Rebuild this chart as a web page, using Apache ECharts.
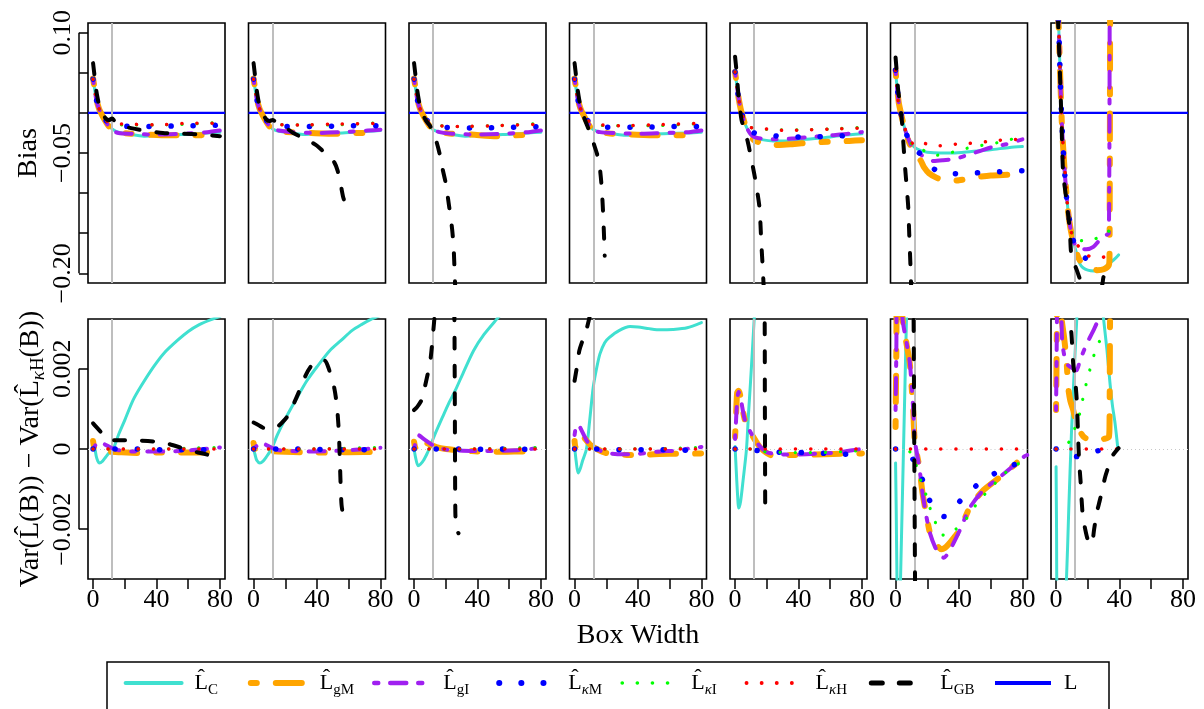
<!DOCTYPE html>
<html>
<head>
<meta charset="utf-8">
<script src="https://cdn.jsdelivr.net/npm/echarts@6/dist/echarts.min.js"></script>
<style>
  html, body { margin: 0; padding: 0; background: #ffffff; }
  #chart { width: 1204px; height: 709px; }
</style>
</head>
<body>
<div id="chart"></div>
<script>
// ---- axis ranges and ticks ----
const xMin = -3.2, xMax = 83.2;
const biasMin = -0.212, biasMax = 0.112;
const varMin = -0.00324, varMax = 0.00324;
const boxTicks = [0, 20, 40, 60, 80];
const boxLabels = [0, 40, 80];
const biasTicks = [-0.2, -0.15, -0.1, -0.05, 0, 0.05, 0.1];
const biasLabels = [-0.2, -0.05, 0.1];
const varTicks = [-0.002, 0, 0.002];
const refWidth = 12;   // reference box width (grey vertical line)
const trueL = 0;       // true value L drawn in the bias row

// ---- bias of each estimator, one list of [box width, bias] per panel ----
const biasC = [
  [[0,.042],[1,.029],[2,.017],[3,.009],[4,.004],[6,-.004],[8,-.011],[10,-.016],[12,-.020],[16,-.024],[24,-.027],[32,-.029],[40,-.028],[56,-.027],[72,-.025],[80,-.024]],
  [[0,.042],[1,.029],[2,.017],[3,.009],[4,.004],[6,-.004],[8,-.011],[10,-.016],[12,-.020],[16,-.023],[24,-.025],[32,-.027],[40,-.026],[56,-.025],[72,-.023],[80,-.022]],
  [[0,.042],[1,.029],[2,.017],[3,.009],[4,.004],[6,-.004],[8,-.011],[10,-.016],[12,-.021],[16,-.024],[24,-.027],[32,-.029],[40,-.028],[56,-.027],[72,-.025],[80,-.024]],
  [[0,.042],[1,.029],[2,.017],[3,.009],[4,.004],[6,-.004],[8,-.011],[10,-.017],[12,-.021],[16,-.024],[24,-.026],[32,-.028],[40,-.027],[56,-.026],[72,-.025],[80,-.024]],
  [[0,.051],[1,.036],[2,.021],[3,.010],[4,.001],[6,-.012],[8,-.021],[10,-.027],[12,-.031],[16,-.033],[24,-.035],[32,-.035],[44,-.033],[56,-.031],[68,-.028],[80,-.026]],
  [[0,.053],[1,.030],[2,.013],[3,.003],[4,-.006],[6,-.021],[8,-.031],[10,-.038],[12,-.043],[16,-.047],[20,-.049],[28,-.050],[36,-.050],[48,-.048],[60,-.046],[72,-.043],[80,-.042]],
  [[0,.17],[1,.13],[1.7,.105],[2.3,.065],[3,.022],[3.6,-.011],[4.4,-.041],[5.5,-.075],[6.1,-.090],[7.6,-.123],[9,-.143],[10.8,-.158],[12.5,-.172],[15,-.188],[17,-.193],[20,-.196],[24,-.197],[28,-.196],[31,-.192],[34,-.187],[37,-.182],[39.4,-.177]]
];
const biasGM = [
  [[0,.043],[1,.030],[2,.018],[3,.010],[4,.004],[6,-.004],[8,-.011],[10,-.017],[12,-.021],[16,-.024],[24,-.026],[32,-.027],[48,-.028],[64,-.028],[80,-.027]],
  [[0,.043],[1,.030],[2,.018],[3,.010],[4,.004],[6,-.004],[8,-.011],[10,-.017],[12,-.021],[16,-.023],[24,-.024],[36,-.025],[52,-.026],[64,-.025],[80,-.025]],
  [[0,.043],[1,.030],[2,.018],[3,.010],[4,.004],[6,-.004],[8,-.011],[10,-.017],[12,-.022],[16,-.024],[24,-.026],[36,-.027],[52,-.029],[64,-.028],[80,-.027]],
  [[0,.043],[1,.030],[2,.018],[3,.010],[4,.004],[6,-.004],[8,-.012],[10,-.018],[12,-.022],[16,-.024],[24,-.026],[36,-.027],[52,-.028],[64,-.028],[80,-.027]],
  [[0,.051],[1,.036],[2,.021],[3,.010],[4,.001],[6,-.012],[8,-.022],[10,-.029],[12,-.034],[16,-.037],[20,-.039],[28,-.040],[36,-.039],[48,-.037],[60,-.036],[72,-.035],[80,-.034]],
  [[0,.053],[1,.030],[2,.013],[3,.003],[4,-.006],[6,-.022],[8,-.034],[10,-.044],[12,-.051],[14,-.055],[16,-.060],[18,-.068],[21,-.075],[26,-.081],[32,-.085],[40,-.084],[48,-.081],[60,-.078],[72,-.077],[80,-.076]],
  [[0,.17],[1,.13],[1.7,.105],[2.3,.065],[3,.022],[3.6,-.011],[4.4,-.041],[5.5,-.075],[6.1,-.090],[7.6,-.123],[9,-.143],[10.8,-.160],[12.5,-.172],[15,-.184],[18,-.189],[22,-.193],[26,-.196],[30,-.195],[33.2,-.190],[33.7,-.180],[34.1,.15]]
];
const biasGI = [
  [[0,.042],[1,.029],[2,.017],[3,.009],[4,.004],[6,-.004],[8,-.011],[10,-.017],[12,-.022],[16,-.025],[24,-.026],[40,-.027],[56,-.026],[72,-.024],[80,-.022]],
  [[0,.042],[1,.029],[2,.017],[3,.009],[4,.004],[6,-.004],[8,-.011],[10,-.016],[12,-.020],[16,-.022],[24,-.024],[40,-.025],[56,-.024],[72,-.022],[80,-.021]],
  [[0,.042],[1,.029],[2,.017],[3,.009],[4,.004],[6,-.004],[8,-.011],[10,-.016],[12,-.021],[16,-.024],[24,-.026],[40,-.027],[56,-.026],[72,-.024],[80,-.022]],
  [[0,.042],[1,.029],[2,.017],[3,.009],[4,.004],[6,-.004],[8,-.011],[10,-.017],[12,-.022],[16,-.024],[24,-.025],[40,-.026],[56,-.025],[72,-.024],[80,-.022]],
  [[0,.051],[1,.036],[2,.021],[3,.010],[4,.001],[6,-.012],[8,-.021],[10,-.027],[12,-.030],[16,-.032],[24,-.033],[36,-.032],[48,-.030],[60,-.028],[72,-.026],[80,-.024]],
  [[0,.053],[1,.030],[2,.013],[3,.003],[4,-.006],[6,-.021],[8,-.032],[10,-.041],[12,-.046],[16,-.052],[20,-.057],[24,-.060],[30,-.059],[38,-.057],[46,-.052],[54,-.047],[62,-.042],[70,-.039],[80,-.033]],
  [[0,.17],[1,.13],[1.7,.105],[2.3,.065],[3,.022],[3.6,-.011],[4.4,-.041],[5.5,-.075],[6.1,-.090],[7.6,-.123],[9,-.143],[10.8,-.158],[12.5,-.166],[15,-.169],[19,-.170],[23.5,-.167],[27.7,-.158],[31.9,-.152],[33.3,-.150],[33.8,.15]]
];
const biasKM = [
  [[0,.042],[2,.017],[4,.004],[6,-.003],[8,-.009],[10,-.013],[12,-.015],[16,-.016],[24,-.017],[40,-.017],[56,-.016],[72,-.016],[80,-.015]],
  [[0,.042],[2,.017],[4,.004],[6,-.003],[8,-.009],[10,-.013],[12,-.015],[20,-.017],[40,-.017],[60,-.016],[80,-.016]],
  [[0,.042],[2,.017],[4,.004],[6,-.003],[8,-.009],[10,-.013],[12,-.016],[20,-.018],[40,-.019],[60,-.018],[80,-.017]],
  [[0,.042],[2,.017],[4,.004],[6,-.003],[8,-.009],[10,-.013],[12,-.016],[20,-.018],[40,-.018],[60,-.017],[80,-.017]],
  [[0,.051],[2,.021],[4,.001],[6,-.012],[8,-.020],[12,-.025],[20,-.027],[32,-.030],[48,-.030],[64,-.029],[80,-.027]],
  [[0,.053],[2,.013],[3,.002],[6,-.022],[9,-.036],[12,-.046],[15,-.050],[18,-.057],[21,-.065],[26,-.072],[33,-.076],[47,-.075],[62,-.074],[76,-.072],[80,-.072]],
  [[0,.17],[1,.13],[1.7,.105],[2.3,.065],[3,.020],[4.4,-.041],[6.1,-.094],[7.6,-.123],[10.8,-.158],[12.5,-.170],[16.7,-.179],[22,-.184],[26,-.187],[28,-.188]]
];
const biasKI = [
  [[0,.042],[2,.017],[4,.004],[6,-.003],[8,-.009],[12,-.014],[20,-.015],[40,-.015],[60,-.014],[80,-.012]],
  [[0,.042],[2,.017],[4,.004],[6,-.003],[8,-.009],[12,-.014],[30,-.015],[50,-.015],[80,-.012]],
  [[0,.042],[2,.017],[4,.004],[6,-.003],[8,-.009],[12,-.015],[30,-.017],[50,-.016],[80,-.013]],
  [[0,.042],[2,.017],[4,.004],[6,-.003],[8,-.009],[12,-.015],[30,-.016],[50,-.016],[80,-.013]],
  [[0,.051],[2,.021],[4,.001],[6,-.011],[8,-.017],[12,-.019],[24,-.021],[40,-.021],[60,-.020],[80,-.018]],
  [[0,.053],[2,.013],[3,.002],[6,-.021],[9,-.035],[12,-.044],[18,-.047],[25,-.053],[34,-.050],[43,-.045],[53,-.041],[62,-.038],[71,-.034],[80,-.029]],
  [[0,.17],[1,.13],[1.7,.105],[2.3,.065],[3,.020],[4.4,-.041],[6.1,-.090],[7.6,-.123],[10.8,-.155],[13,-.160],[17,-.159],[24,-.157],[30,-.154],[33,-.148],[35.1,-.139],[36,-.135]]
];
const biasKH = [
  [[0,.042],[2,.017],[4,.004],[6,-.003],[8,-.009],[12,-.014],[20,-.014],[40,-.015],[60,-.013],[80,-.013]],
  [[0,.042],[2,.017],[4,.004],[6,-.003],[8,-.009],[12,-.014],[30,-.015],[50,-.014],[80,-.013]],
  [[0,.042],[2,.017],[4,.004],[6,-.003],[8,-.009],[12,-.015],[30,-.017],[50,-.016],[80,-.014]],
  [[0,.042],[2,.017],[4,.004],[6,-.003],[8,-.009],[12,-.014],[30,-.016],[50,-.015],[80,-.013]],
  [[0,.051],[2,.021],[4,.001],[6,-.011],[8,-.017],[12,-.019],[20,-.020],[32,-.022],[48,-.021],[64,-.020],[80,-.019]],
  [[0,.053],[1.6,.016],[3,.001],[6,-.020],[8,-.030],[12,-.040],[15,-.036],[20,-.039],[28,-.041],[38,-.039],[47,-.038],[57,-.036],[66,-.034],[76,-.033],[80,-.032]],
  [[0,.17],[1,.13],[1.7,.105],[2.3,.065],[3,.020],[3.6,-.011],[4.4,-.041],[5.5,-.069],[6.1,-.087],[7.6,-.123],[10.8,-.158],[16,-.170],[19.3,-.177],[23,-.180],[27.7,-.181],[32,-.178],[36.2,-.173]]
];
const biasGB = [
  [[0,.062],[1,.045],[2,.028],[3,.017],[4,.009],[6,-.001],[8,-.007],[10,-.009],[12,-.007],[14,-.011],[18,-.016],[24,-.019],[32,-.022],[44,-.025],[56,-.026],[68,-.027],[80,-.029]],
  [[0,.062],[1,.045],[2,.028],[3,.016],[4,.008],[6,-.002],[8,-.008],[10,-.010],[12,-.009],[15,-.012],[20,-.018],[25,-.025],[30,-.030],[36,-.036],[40,-.041],[44,-.048],[48,-.055],[51,-.062],[53,-.072],[55,-.090],[56.5,-.105],[57.5,-.111]],
  [[0,.062],[1,.045],[2,.028],[3,.016],[4,.007],[6,-.004],[8,-.011],[10,-.016],[12,-.025],[14,-.035],[16,-.050],[18,-.070],[20,-.088],[22,-.115],[24,-.145],[25,-.170],[25.6,-.200],[26,-.22]],
  [[0,.062],[1,.045],[2,.028],[3,.016],[4,.007],[6,-.006],[8,-.016],[10,-.026],[12,-.038],[14,-.050],[15.5,-.062],[17,-.090],[18,-.125],[18.7,-.160],[19,-.178]],
  [[0,.070],[1,.050],[2,.025],[3,.008],[4,-.008],[6,-.022],[8,-.036],[10,-.055],[12,-.075],[14,-.098],[15.5,-.120],[16.5,-.160],[17.5,-.195],[18,-.215]],
  [[0,.069],[1,.045],[1.6,.029],[3,.008],[4,-.010],[5,-.040],[6,-.068],[7,-.092],[8,-.118],[8.6,-.150],[9.4,-.191],[9.8,-.215]],
  [[0,.19],[1.3,.112],[2.3,.058],[3.4,-.009],[4.4,-.073],[6.6,-.110],[8.7,-.147],[9.7,-.178],[12.9,-.195],[15,-.207],[18,-.225],[24,-.235],[29,-.215],[30,-.204],[34,-.189]]
];

// ---- Var(L(B)) - Var(L_kH(B)), one list of [box width, difference] per panel ----
const varC = [
  [[0,2e-4],[1,0.5e-4],[2,-1.8e-4],[3,-3e-4],[4,-3.5e-4],[6,-3e-4],[8,-2e-4],[10,-1e-4],[12.7,0],[16,3.5e-4],[20,7.2e-4],[25,12e-4],[30,15.5e-4],[38,20.4e-4],[45,24e-4],[53,27e-4],[60,29.3e-4],[67,31e-4],[74,32.2e-4],[80,33e-4]],
  [[0,0],[1,-1.5e-4],[2,-2.8e-4],[4,-3.5e-4],[6,-3e-4],[8,-2e-4],[11.3,0],[15,3.5e-4],[20,7.5e-4],[27,12.5e-4],[33.6,17e-4],[40,20.5e-4],[48,24.5e-4],[55,27e-4],[62,29.5e-4],[68,31e-4],[74,32.3e-4],[80,33.3e-4]],
  [[0,0],[1,-2.2e-4],[2.5,-4.2e-4],[4,-3.8e-4],[6,-2.8e-4],[8,-1.3e-4],[9.5,0],[13,3.5e-4],[18,8e-4],[22,11.5e-4],[26,14.6e-4],[31,19e-4],[37.5,24.5e-4],[44,28.5e-4],[52,32.3e-4],[58,35e-4]],
  [[0,0.6e-4],[1,-3e-4],[2.2,-6e-4],[3.5,-5e-4],[5,-3e-4],[7.5,0],[9.5,7e-4],[11.8,15.5e-4],[14,20.3e-4],[16,23.7e-4],[19,26.5e-4],[22,27.8e-4],[28,29.5e-4],[35,30.5e-4],[40,30.4e-4],[47,30e-4],[54,29.7e-4],[62,29.8e-4],[71,30.2e-4],[80,31.5e-4]],
  [[0,0.6e-4],[0.7,-5e-4],[1.5,-11e-4],[2.3,-14.7e-4],[3.5,-13e-4],[5,-8e-4],[7.2,0],[8.5,9e-4],[9.7,16.4e-4],[11,25e-4],[12,32e-4],[13,38e-4]],
  [[0,-3.5e-4],[0.4,-15e-4],[0.9,-33e-4],[1.5,-45e-4],[2.5,-45e-4],[3.1,-33e-4],[5,0],[6.9,33e-4],[7.5,45e-4]],
  [[0,-4.4e-4],[0.3,-20e-4],[0.7,-40e-4],[4,-50e-4],[6.6,-32e-4],[8,-15e-4],[9.7,4e-4],[11.5,20e-4],[13,32e-4],[14,40e-4],[20,60e-4],[27,45e-4],[29.8,33e-4],[32,25e-4],[34,16.4e-4],[35.5,11e-4],[37.2,6.4e-4],[39,0]]
];
const varGM = [
  [[0,2e-4],[1,0],[3,-0.3e-4],[8,-0.6e-4],[16,-0.8e-4],[28,-1e-4],[40,-0.9e-4],[60,-0.9e-4],[80,-0.8e-4]],
  [[0,1.5e-4],[1,0],[4,-0.3e-4],[10,-0.5e-4],[20,-0.7e-4],[30,-0.8e-4],[45,-0.9e-4],[60,-0.8e-4],[80,-0.7e-4]],
  [[0,1.8e-4],[0.8,0.3e-4],[2,1.5e-4],[4,2.5e-4],[8,1.5e-4],[14,0.5e-4],[20,0],[28,-0.3e-4],[40,-0.6e-4],[56,-0.7e-4],[70,-0.6e-4],[80,-0.6e-4]],
  [[0,2e-4],[0.5,0.5e-4],[1.5,1.5e-4],[4,3.5e-4],[6,2.8e-4],[10,1e-4],[14,0],[20,-1e-4],[28,-1.4e-4],[38,-1.5e-4],[50,-1.3e-4],[60,-1.2e-4],[68,-1.2e-4],[80,-1.1e-4]],
  [[0,3e-4],[0.6,8e-4],[1.3,14e-4],[2.2,14.5e-4],[3.2,13.5e-4],[4.5,10.5e-4],[6,7.5e-4],[8,5.5e-4],[10,4e-4],[13,2e-4],[16,0.3e-4],[20,-1e-4],[24,-1.7e-4],[30,-1.5e-4],[40,-1.5e-4],[56,-1.3e-4],[68,-1.2e-4],[80,-1.1e-4]],
  [[0,5.5e-4],[0.5,25e-4],[1,45e-4],[3,45e-4],[4.4,32.4e-4],[6.9,26.2e-4],[9,21.2e-4],[11.1,9.7e-4],[12.2,1.4e-4],[14.9,-4.3e-4],[17,-11e-4],[19.5,-16.5e-4],[21.7,-20.9e-4],[25,-23.5e-4],[29,-25e-4],[31.2,-24.6e-4],[33.3,-23.8e-4],[37,-22e-4],[40.8,-20e-4],[47.1,-14.3e-4],[55.6,-10.2e-4],[66.2,-6.9e-4],[74,-4.3e-4],[81,-1.9e-4],[83,-1.5e-4]],
  [[0,9.7e-4],[0.5,30e-4],[1,50e-4],[3,45e-4],[3.4,33e-4],[5,28e-4],[6.6,22e-4],[7.6,15.5e-4],[9,12e-4],[10.8,9.7e-4],[13,6e-4],[14.6,4.7e-4],[17.5,3e-4],[20,2.5e-4],[25.6,2.2e-4],[30,2.5e-4],[33.3,3e-4],[33.7,6e-4],[34,30e-4],[34.2,40e-4]]
];
const varGI = [
  [[0,0],[2,1.2e-4],[4,1.9e-4],[8,1e-4],[12,0.2e-4],[16,-0.3e-4],[24,-0.6e-4],[40,-0.6e-4],[56,-0.5e-4],[70,0],[80,0.4e-4]],
  [[0,0],[2,0.8e-4],[4.5,1.8e-4],[8,1e-4],[12,0.2e-4],[16,-0.3e-4],[24,-0.5e-4],[36,-0.6e-4],[50,-0.5e-4],[64,-0.2e-4],[80,0.3e-4]],
  [[0,0],[1.5,2.5e-4],[2.5,3.5e-4],[6,2.5e-4],[10,1.4e-4],[14,0.5e-4],[18,0],[24,-0.3e-4],[36,-0.5e-4],[50,-0.5e-4],[64,-0.3e-4],[76,0.1e-4],[80,0.2e-4]],
  [[0,3.5e-4],[1,5.8e-4],[2,6.2e-4],[4,5e-4],[7.5,2.2e-4],[10,1e-4],[14,0],[18,-0.7e-4],[22,-1.1e-4],[30,-1.3e-4],[40,-1.2e-4],[54,-0.6e-4],[64,-0.4e-4],[75,0.3e-4],[80,0.5e-4]],
  [[0,2.5e-4],[0.6,7e-4],[1.3,12e-4],[2.2,14.2e-4],[3.2,13.5e-4],[4.5,10.5e-4],[6,7.5e-4],[8,5.5e-4],[10,4e-4],[13,2e-4],[16,0.5e-4],[20,-0.8e-4],[25,-1.2e-4],[33,-1.4e-4],[45,-1.3e-4],[56,-1.1e-4],[66,-0.8e-4],[74,-0.3e-4],[80,0]],
  [[0,9.7e-4],[0.5,25e-4],[1,45e-4],[3,45e-4],[4.4,32.4e-4],[6.9,26.5e-4],[9,21.5e-4],[11.1,10e-4],[12.2,2e-4],[14.9,-4.3e-4],[17,-11e-4],[19.5,-17e-4],[21.7,-21e-4],[25,-24.5e-4],[28,-26.5e-4],[30.5,-27.1e-4],[33,-26e-4],[36.5,-23.5e-4],[40.8,-20e-4],[47,-14.5e-4],[55.6,-10.2e-4],[66,-6.9e-4],[74,-4.3e-4],[81,-1.9e-4],[83,-1.5e-4]],
  [[0,9.7e-4],[0.5,30e-4],[1,50e-4],[3,45e-4],[3.4,33e-4],[4,26.2e-4],[6.6,21.3e-4],[10.8,20e-4],[12.9,19.6e-4],[15,22e-4],[19.3,26.2e-4],[23.5,29.5e-4],[26.7,32.5e-4],[30,40e-4],[40,45e-4]]
];
const varKM = [
  [[0,0],[12,0],[28,0],[44,-0.2e-4],[58,-0.2e-4],[72,-0.2e-4],[80,-0.2e-4]],
  [[0,0],[14,0],[28,0],[42,-0.1e-4],[56,-0.2e-4],[70,-0.2e-4],[80,-0.2e-4]],
  [[0,0],[30,0],[45,-0.1e-4],[60,0],[72,-0.1e-4],[80,-0.1e-4]],
  [[0,0],[14,0],[29,-0.2e-4],[43,-0.2e-4],[57,-0.2e-4],[72,-0.3e-4],[80,-0.2e-4]],
  [[0,0],[8,0],[14,-0.4e-4],[28,-0.8e-4],[42,-0.9e-4],[57,-1.1e-4],[71,-1.3e-4],[80,-1.2e-4]],
  [[0,0],[5,0],[8,-1e-4],[11,-2.6e-4],[14,-5e-4],[17,-7.7e-4],[21.7,-13e-4],[26,-15.5e-4],[30.6,-16.8e-4],[35,-15.5e-4],[40.8,-12.9e-4],[51,-9.1e-4],[63,-6e-4],[76,-3.7e-4],[82,-2.5e-4]],
  [[0,0],[6,-0.5e-4],[13,-1.9e-4],[20,-1.2e-4],[26.7,-0.4e-4],[28,0]]
];
const varKI = [
  [[0,0],[20,0],[40,0],[60,0.2e-4],[80,0.4e-4]],
  [[0,0],[30,0],[50,0.1e-4],[70,0.3e-4],[80,0.4e-4]],
  [[0,0],[30,0],[60,0.2e-4],[80,0.4e-4]],
  [[0,0],[30,0],[57,0.1e-4],[70,0.3e-4],[80,0.4e-4]],
  [[0,0],[10,0],[18,-0.6e-4],[28,-0.8e-4],[38,-0.9e-4],[50,-0.9e-4],[60,-0.8e-4],[70,-0.6e-4],[80,-0.4e-4]],
  [[0,0],[6,0],[9,-0.7e-4],[13,-4e-4],[16,-8e-4],[19,-11.2e-4],[21.7,-14.7e-4],[25,-18.2e-4],[29.5,-21.4e-4],[33,-21.5e-4],[38,-20e-4],[44.6,-17.4e-4],[50,-14.3e-4],[56,-11.4e-4],[62.6,-8.6e-4],[69,-6e-4],[77,-3.8e-4],[82,-2.5e-4]],
  [[0,0],[4,0.3e-4],[7.6,1.4e-4],[11.4,4.7e-4],[14.6,8.4e-4],[16.7,12.2e-4],[18.6,15.6e-4],[21,19.3e-4],[23.5,22.9e-4],[26.7,26.4e-4],[30,28e-4],[33.7,28.7e-4]]
];
const varKH = [
  [[0,0],[80,0]], [[0,0],[80,0]], [[0,0],[80,0]], [[0,0],[80,0]],
  [[0,0],[80,0]], [[0,0],[80,0]], [[0,0],[40,0]]
];
const varGB = [
  [[0,6.4e-4],[2,5.5e-4],[5,4.2e-4],[8,3e-4],[11,2.2e-4],[20,2.2e-4],[30,2.1e-4],[40,1.8e-4],[48,1.2e-4],[54,0.5e-4],[60,-0.3e-4],[70,-1.2e-4],[80,-2.2e-4]],
  [[0,6.6e-4],[3,6e-4],[6,5.3e-4],[10,4.9e-4],[14.5,5.4e-4],[18,6.6e-4],[21,7.9e-4],[25,11e-4],[29,14.6e-4],[33,18.5e-4],[37,21e-4],[41,22e-4],[45,22e-4],[47,20.5e-4],[49,18e-4],[51,15e-4],[52.5,11e-4],[53.5,6e-4],[54,2e-4],[54.5,-4e-4],[55,-10e-4],[55.5,-14e-4],[56.5,-16.5e-4],[57,-17e-4]],
  [[0,9.7e-4],[2,10.5e-4],[4.7,12.2e-4],[6.8,15.5e-4],[8.5,18.5e-4],[10,21.3e-4],[11,24.6e-4],[12.7,32e-4],[13.5,36e-4],[20,60e-4],[25,40e-4],[25.6,20e-4],[26,-15e-4],[26.6,-20e-4],[28,-21e-4]],
  [[0,17e-4],[1.5,20.5e-4],[3,24.5e-4],[5,27e-4],[6.5,28.2e-4],[8,30.5e-4],[9.5,33e-4],[11,36e-4]],
  [[10,80e-4],[16,60e-4],[18.5,40e-4],[18.8,10e-4],[19,-15e-4]],
  [[10,60e-4],[11.2,40e-4],[11.8,0],[12.4,-40e-4],[13,-60e-4]],
  [[4,50e-4],[8.7,32e-4],[9.7,28.7e-4],[10.8,21.3e-4],[12,17.5e-4],[12.9,13e-4],[13.4,8.9e-4],[13.9,3e-4],[14.6,-3.5e-4],[15.4,-7.7e-4],[16,-12e-4],[17,-17.4e-4],[18,-19.3e-4],[20,-22.6e-4],[22.4,-23.8e-4],[24,-20e-4],[25.6,-16e-4],[27.7,-12.6e-4],[31,-6.9e-4],[33,-4.4e-4],[35,-2e-4],[39.4,0.2e-4]]
];

// ---- look of each estimator (legendWidth: stroke used for the legend sample) ----
const estimators = [
  { name: 'LC',  bias: biasC,  vari: varC,  color: '#40E0D0', width: 3,   legendWidth: 4,   dash: 'solid' },
  { name: 'LgM', bias: biasGM, vari: varGM, color: '#FFA500', width: 6,   legendWidth: 6,   dash: [6, 19, 26, 19] },
  { name: 'LgI', bias: biasGI, vari: varGI, color: '#A020F0', width: 4,   legendWidth: 4.5, dash: [4, 12, 16, 12] },
  { name: 'LkM', bias: biasKM, vari: varKM, color: '#0000FF', width: 5.5, legendWidth: 6,   dash: [0.1, 22] },
  { name: 'LkI', bias: biasKI, vari: varKI, color: '#00FF00', width: 3.2, legendWidth: 3.6, dash: [0.1, 15] },
  { name: 'LkH', bias: biasKH, vari: varKH, color: '#FF0000', width: 3.5, legendWidth: 3.8, dash: [0.1, 15] },
  { name: 'LGB', bias: biasGB, vari: varGB, color: '#000000', width: 4,   legendWidth: 5,   dash: [11, 17] }
];
const trueStyle = { name: 'L', color: '#0000FF', width: 2.2, legendWidth: 4 };

const FONT = '"Liberation Serif", "Times New Roman", serif';
const gridLeft = [88, 248.5, 409, 569.5, 730, 890.5, 1051];
const gridTop = [23, 319];
const gridW = 137, gridH = 260;
const tickLen = 9;

const minus = (s) => s.replace('-', '\u2212');
const fmtBias = (v) => (Math.abs(v) < 1e-12 ? '0' : minus(v.toFixed(2)));
const fmtVar = (v) => (Math.abs(v) < 1e-12 ? '0' : minus(v.toFixed(3)));

const grid = [], xAxis = [], yAxis = [], series = [];
for (let row = 0; row < 2; row++) {
  for (let p = 0; p < 7; p++) {
    const g = row * 7 + p;
    grid.push({
      left: gridLeft[p], top: gridTop[row], width: gridW, height: gridH,
      show: true, borderColor: '#000', borderWidth: 1.6, backgroundColor: 'transparent'
    });
    xAxis.push({
      type: 'value', gridIndex: g, min: xMin, max: xMax, position: 'bottom',
      axisLine: { show: false, onZero: false }, splitLine: { show: false },
      axisTick: { show: row === 1, customValues: boxTicks, length: 10, lineStyle: { color: '#000', width: 1.5 } },
      axisLabel: { show: row === 1, customValues: boxLabels, margin: 8, color: '#000', fontFamily: FONT, fontSize: 26 }
    });
    yAxis.push({
      type: 'value', gridIndex: g, position: 'left',
      min: row ? varMin : biasMin, max: row ? varMax : biasMax,
      axisLine: { show: false, onZero: false }, splitLine: { show: false },
      axisTick: { show: p === 0, inside: false, length: tickLen, customValues: row ? varTicks : biasTicks, lineStyle: { color: '#000', width: 1.5 } },
      axisLabel: {
        show: p === 0, customValues: row ? varTicks : biasLabels, rotate: 90, margin: 12,
        color: '#000', fontFamily: FONT, fontSize: 26, formatter: row ? fmtVar : fmtBias
      }
    });
    // grey reference line at the chosen box width, dotted zero line in the variance row
    const marks = [{ xAxis: refWidth, lineStyle: { color: '#BEBEBE', width: 2, type: 'solid' } }];
    if (row === 1) marks.push({ yAxis: 0, lineStyle: { color: '#C8C8C8', width: 1, type: [1, 3] } });
    series.push({
      type: 'line', xAxisIndex: g, yAxisIndex: g, data: [], silent: true, z: 1,
      markLine: { silent: true, symbol: 'none', animation: false, label: { show: false }, data: marks }
    });
    if (row === 0) {
      series.push({
        type: 'line', name: trueStyle.name, xAxisIndex: g, yAxisIndex: g,
        data: [[xMin, trueL], [xMax, trueL]], symbol: 'none', silent: true, z: 2,
        lineStyle: { color: trueStyle.color, width: trueStyle.width, type: 'solid' },
        itemStyle: { color: trueStyle.color }
      });
    }
    estimators.forEach((e, i) => {
      series.push({
        type: 'line', name: e.name, xAxisIndex: g, yAxisIndex: g,
        data: (row ? e.vari : e.bias)[p], symbol: 'none', showSymbol: false,
        smooth: 0.25, clip: true, silent: true, z: 3 + i,
        lineStyle: { color: e.color, width: e.width, type: e.dash, cap: 'round', join: 'round' },
        itemStyle: { color: e.color }
      });
    });
  }
}

// ---- legend: one component per entry, evenly spaced ----
const legendEntries = estimators.concat([trueStyle]);
const legendText = {
  LC:  '{g|}{b|L\u0302}{s|C}',
  LgM: '{g|}{b|L\u0302}{s|gM}',
  LgI: '{g|}{b|L\u0302}{s|gI}',
  LkM: '{g|}{b|L\u0302}{k|\u03BA}{s|M}',
  LkI: '{g|}{b|L\u0302}{k|\u03BA}{s|I}',
  LkH: '{g|}{b|L\u0302}{k|\u03BA}{s|H}',
  LGB: '{g|}{b|L\u0302}{s|GB}',
  L:   '{g|}{b|L}'
};
const textRich = {
  g: { width: 8 },
  b: { fontFamily: FONT, fontSize: 22, lineHeight: 30, color: '#000' },
  s: { fontFamily: FONT, fontSize: 15, lineHeight: 20, verticalAlign: 'bottom', color: '#000' },
  k: { fontFamily: FONT, fontSize: 15, lineHeight: 20, verticalAlign: 'bottom', fontStyle: 'italic', color: '#000' }
};
const legend = legendEntries.map((e, i) => ({
  data: [e.name], left: 123.6 + i * 124.2, top: 672, padding: 0,
  itemWidth: 56, itemHeight: 14, itemGap: 0, selectedMode: false,
  formatter: () => legendText[e.name],
  lineStyle: { width: e.legendWidth },
  itemStyle: { opacity: 0, borderWidth: 0 },
  textStyle: { fontFamily: FONT, fontSize: 22, color: '#000', rich: textRich }
}));

const chart = echarts.init(document.getElementById('chart'), null, { renderer: 'canvas' });
chart.setOption({
  animation: false,
  backgroundColor: '#ffffff',
  grid, xAxis, yAxis, series, legend
});

// ---- y-axis lines (first tick to last tick), titles and legend frame ----
const graphic = [];
[0, 1].forEach((row) => {
  const g = row * 7;
  const ticks = row ? varTicks : biasTicks;
  const yA = chart.convertToPixel({ yAxisIndex: g }, ticks[0]);
  const yB = chart.convertToPixel({ yAxisIndex: g }, ticks[ticks.length - 1]);
  const x = chart.convertToPixel({ xAxisIndex: g }, xMin) - tickLen;
  graphic.push({ type: 'line', shape: { x1: x, y1: yA, x2: x, y2: yB }, style: { stroke: '#000', lineWidth: 1.5 } });
});
const titleRich = {
  b: { fontFamily: FONT, fontSize: 28, lineHeight: 34, color: '#000' },
  s: { fontFamily: FONT, fontSize: 19, lineHeight: 24, verticalAlign: 'bottom', color: '#000' },
  k: { fontFamily: FONT, fontSize: 19, lineHeight: 24, verticalAlign: 'bottom', fontStyle: 'italic', color: '#000' }
};
graphic.push({
  type: 'text', x: 29, y: gridTop[0] + gridH / 2, rotation: Math.PI / 2,
  style: { text: '{b|Bias}', rich: titleRich, align: 'center', verticalAlign: 'middle' }
});
graphic.push({
  type: 'text', x: 31, y: gridTop[1] + gridH / 2, rotation: Math.PI / 2,
  style: {
    text: '{b|Var(L\u0302(B)) \u2212 Var(L\u0302}{k|\u03BA}{s|H}{b|(B))}',
    rich: titleRich, align: 'center', verticalAlign: 'middle'
  }
});
graphic.push({
  type: 'text', x: (gridLeft[0] + gridLeft[6] + gridW) / 2, y: 636,
  style: { text: '{b|Box Width}', rich: { b: { fontFamily: FONT, fontSize: 28, color: '#000' } }, align: 'center', verticalAlign: 'middle' }
});
graphic.push({
  type: 'rect', shape: { x: 107, y: 662, width: 1002, height: 100 },
  style: { fill: 'none', stroke: '#000', lineWidth: 1.5 }, z: 0
});
chart.setOption({ graphic });
</script>
</body>
</html>
